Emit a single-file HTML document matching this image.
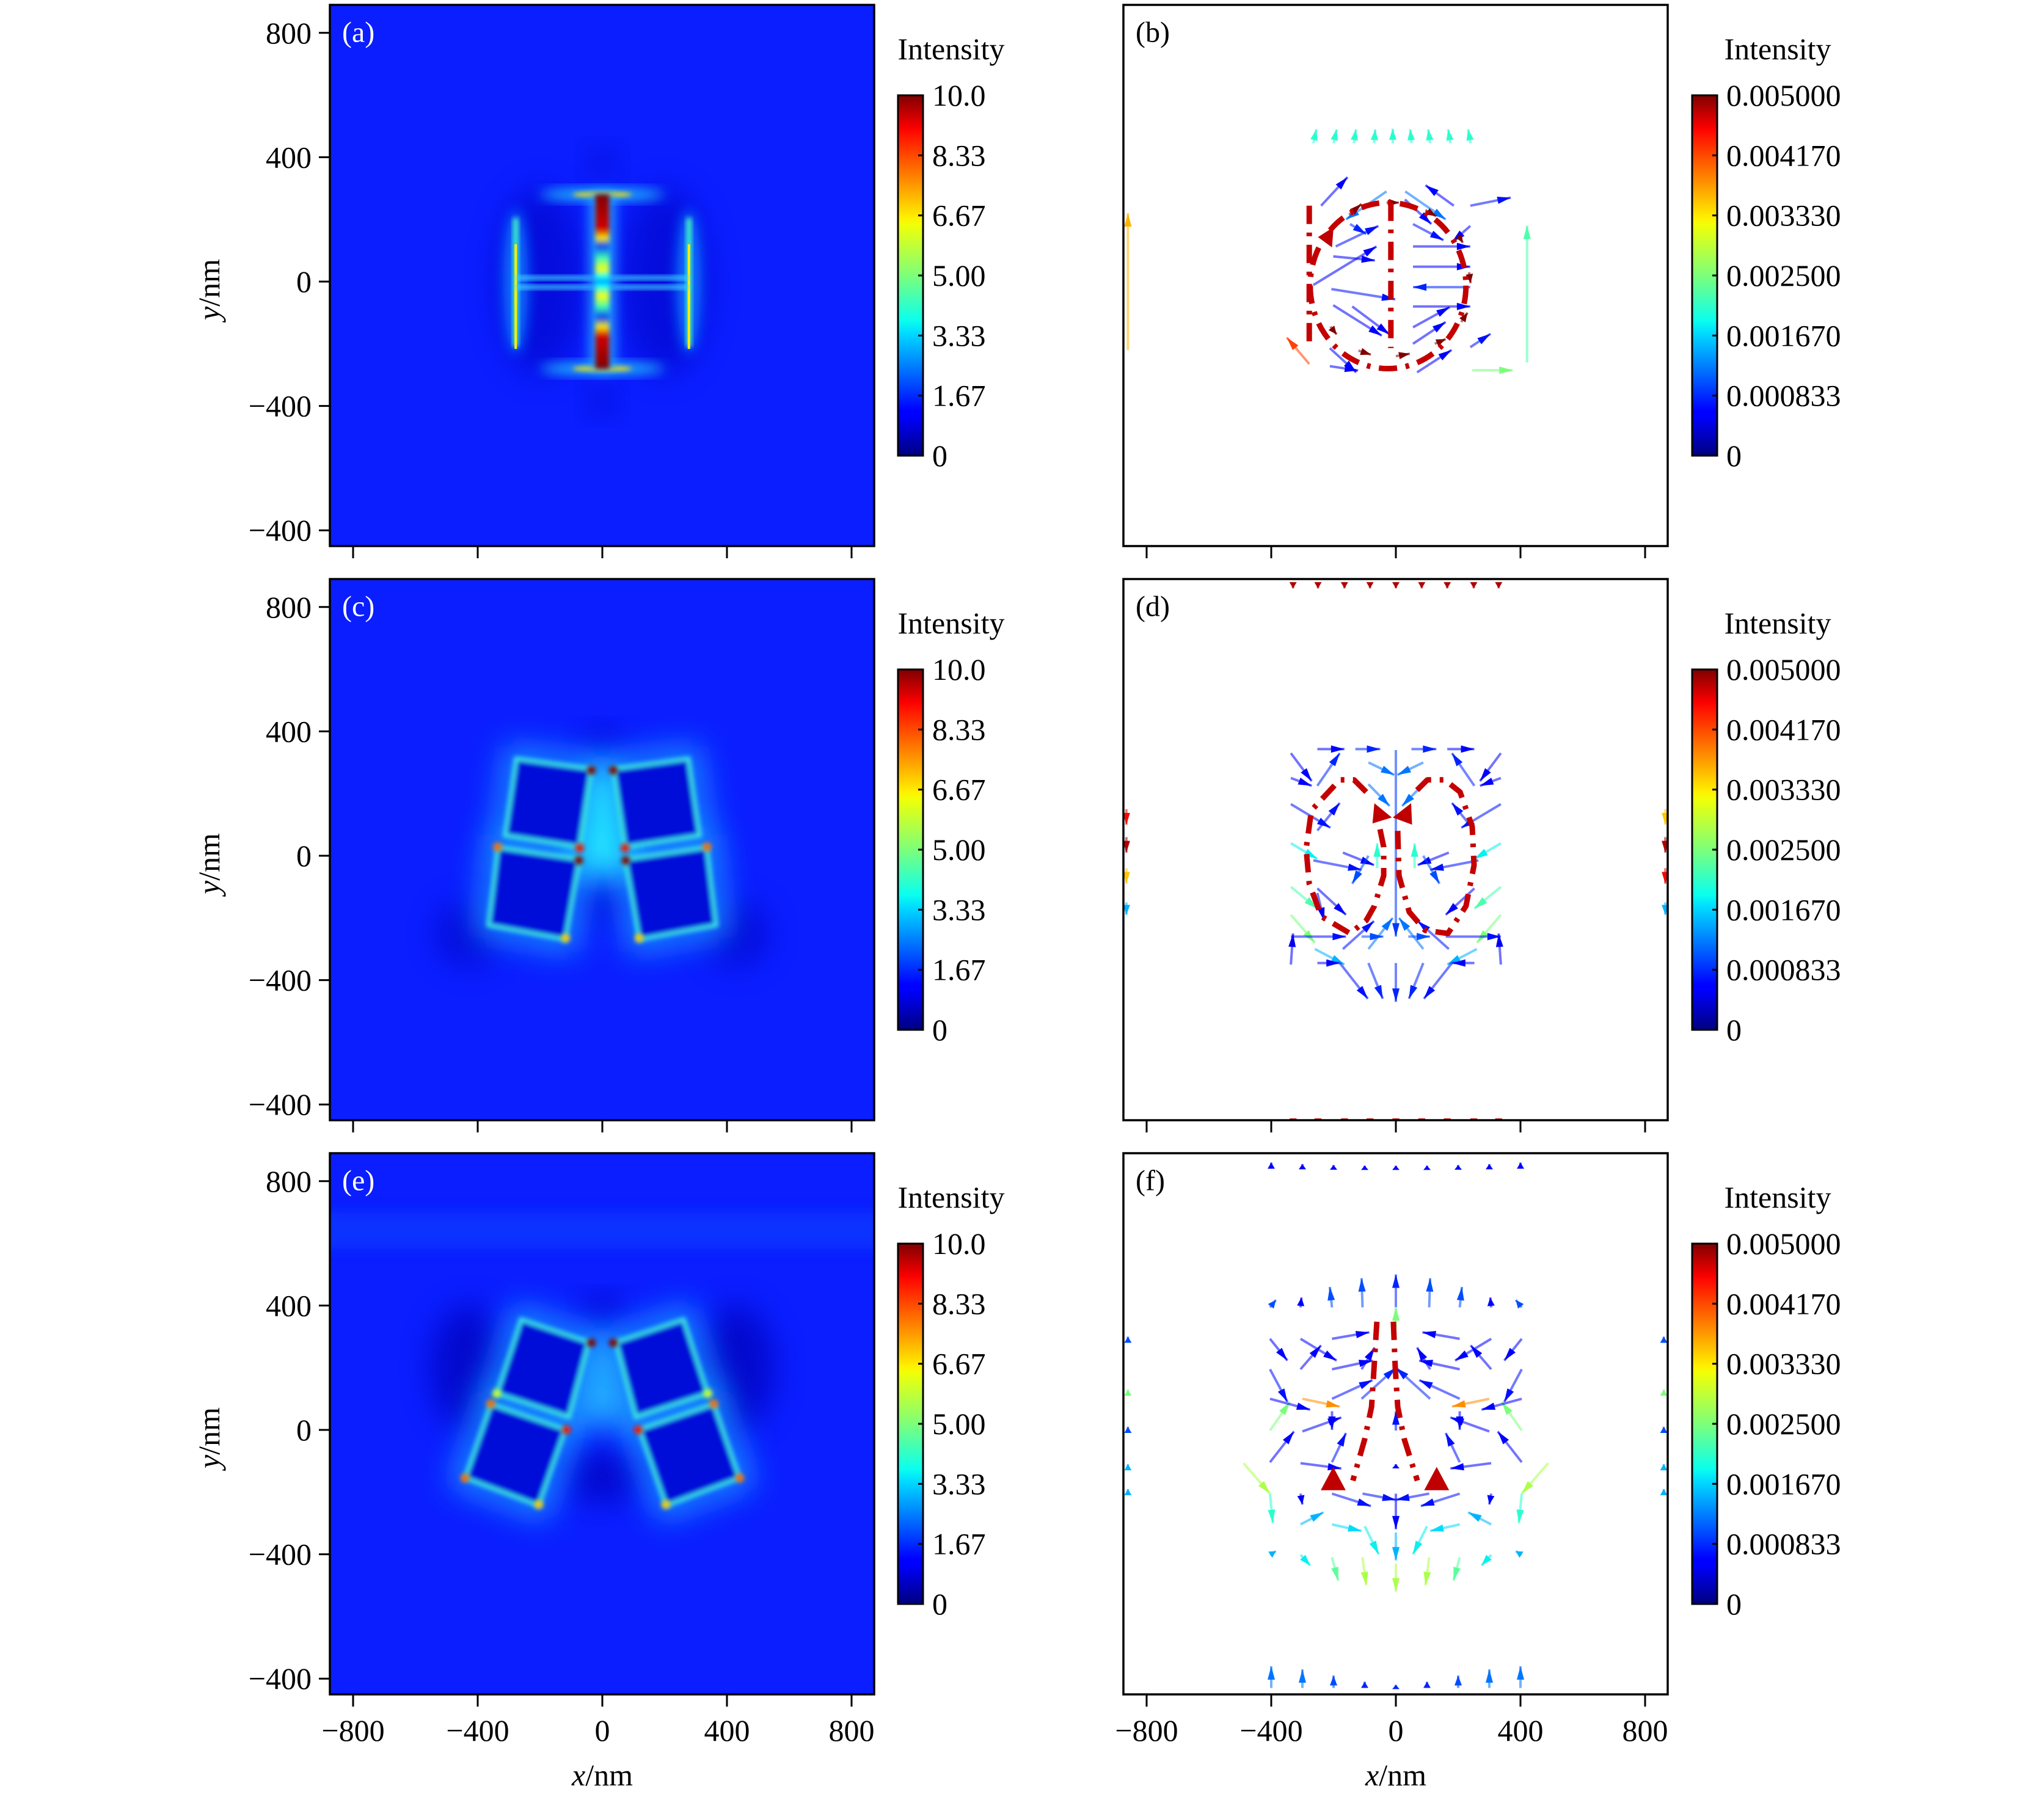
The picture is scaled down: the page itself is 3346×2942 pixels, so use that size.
<!DOCTYPE html>
<html><head><meta charset="utf-8">
<style>
html,body{margin:0;padding:0;background:#fff;}
svg{display:block;}
text{font-family:"Liberation Serif",serif;fill:#000;}
</style></head>
<body>
<svg id="fig" width="3346" height="2942" viewBox="0 0 3346 2942" xmlns="http://www.w3.org/2000/svg">
<defs>
<linearGradient id="jet" x1="0" y1="1" x2="0" y2="0">
<stop offset="0" stop-color="#000080"/><stop offset="0.11" stop-color="#0000ff"/><stop offset="0.125" stop-color="#0000ff"/>
<stop offset="0.34" stop-color="#00dbff"/><stop offset="0.375" stop-color="#0affee"/><stop offset="0.5" stop-color="#7dff7a"/>
<stop offset="0.64" stop-color="#f0ff08"/><stop offset="0.66" stop-color="#fff000"/><stop offset="0.89" stop-color="#ff1200"/>
<stop offset="0.91" stop-color="#fa0000"/><stop offset="1" stop-color="#800000"/>
</linearGradient>
<filter id="b4" x="-50%" y="-50%" width="200%" height="200%"><feGaussianBlur stdDeviation="4"/></filter>
<filter id="b10" x="-50%" y="-50%" width="200%" height="200%"><feGaussianBlur stdDeviation="10"/></filter>
<filter id="b25" x="-50%" y="-50%" width="200%" height="200%"><feGaussianBlur stdDeviation="25"/></filter>
<filter id="b50" x="-50%" y="-50%" width="200%" height="200%"><feGaussianBlur stdDeviation="50"/></filter>
</defs>
</svg>
<script>
// ---------- data ----------
const rowY0 = [461, 1401, 2341];
const leftX0 = 986, rightX0 = 2285;
const yTickVals = [800, 400, 0, -400, -800];
const yTickLabels = ["800", "400", "0", "\u2212400", "\u2212400"];
const xTickVals = [-800, -400, 0, 400, 800];
const xTickLabels = ["\u2212800", "\u2212400", "0", "400", "800"];
const cbLeftLabels = ["10.0", "8.33", "6.67", "5.00", "3.33", "1.67", "0"];
const cbRightLabels = ["0.005000", "0.004170", "0.003330", "0.002500", "0.001670", "0.000833", "0"];
const panelLetters = ["(a)", "(b)", "(c)", "(d)", "(e)", "(f)"];

// panel a (nm)
const aRodStops = [[280,'#800000'],[170,'#d00000'],[140,'#ffee00'],[115,'#0040ff'],[75,'#40ffb0'],[40,'#ffff00'],[15,'#00ffff'],[0,'#00a0ff'],[-15,'#00ffff'],[-45,'#ffff00'],[-80,'#40ffb0'],[-115,'#0040ff'],[-145,'#ffee00'],[-175,'#d00000'],[-280,'#800000']];
const aSideRodX = [-278, 278];
const aSideRodY = [204, -210];
const aBarY = [280, -280];
const aLineY = [12, -18];

// panel c squares (nm) left half; mirrored
const cSquares = [
  [[-277,313],[-35,280],[-73,28],[-313,65]],
  [[-336,28],[-73,-11],[-118,-270],[-366,-224]]
];
const cHot = [[-35,275,5],[-73,25,4.5],[-75,-15,5],[-336,28,4],[-118,-265,3.5]];
// panel e squares
const eSquares = [
  [[-261,356],[-43,283],[-107,41],[-339,117]],
  [[-358,84],[-118,2],[-204,-244],[-441,-155]]
];
const eHot = [[-35,280,5],[-115,0,4.5],[-358,84,4],[-441,-155,4],[-204,-240,3.5],[-339,117,3]];

// panel b arrows [x1,y1,x2,y2,value(×0.001)]
const bArrows = [
 [-240,244,-155,336,0.6],[186,244,95,310,0.6],[239,244,369,270,0.7],[239,179,180,127,0.6],[239,-211,304,-168,0.7],
 [-212,-214,-127,-292,0.6],[55,113,239,113,0.5],[55,48,239,48,0.6],[239,-18,55,-18,0.8],[55,-80,239,-80,0.6],
 [-207,-24,-2,-57,0.7],[-201,81,-67,68,0.6],[-265,-11,-62,113,0.6],[-193,113,-56,179,0.7],[-147,185,-95,153,0.8],
 [-30,290,-160,200,1.2],[30,290,160,200,1.2],[29,264,114,185,0.6],[55,185,153,133,0.7],[-201,-76,-45,-174,0.6],
 [-140,-80,-20,-170,0.6],[55,-147,173,-82,0.6],[55,-200,160,-130,0.6],[68,-292,179,-220,0.6],[-212,-272,-121,-286,0.6],
 [-150,215,-110,250,5],[-30,254,10,254,5],[95,230,130,210,5],[-210,-145,-190,-170,5],[-120,-222,-80,-235,5],
 [0,-240,45,-232,5],[125,-200,160,-185,5],[200,150,215,125,5],[235,30,240,-5,5],[210,-130,230,-100,5],
 [-278,-265,-350,-180,4.2],[421,-260,421,180,2.2],[245,-285,375,-285,2.5],[-860,-220,-860,220,3.6],
 [-265,445,-255,490,2.0],[-200,445,-190,490,2.0],[-135,445,-128,490,2.0],[-70,445,-66,490,2.0],[-10,445,-10,492,2.0],
 [50,445,46,490,2.0],[110,445,104,490,2.0],[175,445,168,490,2.0],[240,445,232,490,2.0],[421,470,421,470,2.6]
];
const bLoop = {cx:-25, cy:-13, rx:250, ry:267};
const bLines = [[-16,254,-16,-214],[-278,244,-278,-211]];
const bTri = [[-250,143],[-200,175],[-205,110]];

// panel d arrows
const dArrows = [
 [-337,330,-270,240,0.6],[-337,250,-270,225,0.6],[-252,343,-165,343,0.6],[-130,343,-50,343,0.8],[50,343,130,343,0.8],
 [165,343,252,343,0.6],[337,330,270,240,0.6],[337,250,270,225,0.6],[-88,300,-5,260,1.2],[88,300,5,260,1.2],
 [-252,225,-180,330,0.8],[252,225,180,330,0.8],[-337,166,-210,90,0.7],[-252,81,-180,170,0.7],[252,81,180,170,0.7],
 [337,166,210,90,0.7],[-88,230,-20,160,1.2],[88,230,20,160,1.2],[-337,40,-252,-10,1.8],[337,40,252,-10,1.8],
 [-265,-15,-110,-45,0.7],[265,-15,110,-45,0.7],[-170,10,-70,-30,0.6],[170,10,70,-30,0.6],[-88,0,-140,-90,1.0],
 [88,0,140,-90,1.0],[-337,-100,-252,-170,2.2],[337,-100,252,-170,2.2],[-252,-105,-160,-190,0.6],[252,-105,160,-190,0.6],
 [-252,-120,-230,-210,0.5],[-337,-190,-260,-280,2.5],[337,-190,260,-280,2.5],[-170,-300,-70,-210,0.7],[170,-300,70,-210,0.7],
 [-88,-300,-10,-200,1.2],[88,-300,10,-200,1.2],[0,340,0,-260,0.9],[-337,-260,-160,-260,0.7],[-110,-260,-40,-260,1.0],
 [40,-260,110,-260,1.0],[160,-260,337,-260,0.7],[-337,-350,-330,-250,0.5],[337,-350,330,-250,0.5],[-260,-300,-165,-350,1.5],
 [260,-300,165,-350,1.5],[-252,-345,-180,-345,0.6],[252,-345,180,-345,0.6],[-180,-345,-90,-460,0.7],[180,-345,90,-460,0.7],
 [-88,-345,-42,-460,0.8],[88,-345,42,-460,0.8],[0,-345,0,-470,0.8],[-60,-40,-60,40,2.0],[60,-40,60,40,2.0],
 [-865,150,-865,100,4.5],[-865,60,-865,10,4.8],[-865,-40,-865,-90,3.5],[-865,-150,-865,-190,1.5],
 [865,150,865,100,3.5],[865,60,865,10,4.8],[865,-40,865,-90,4.5],[865,-150,865,-190,1.5]
];
const dEdgeX = [-330,-250,-165,-83,0,83,165,250,330];
const dEdgeY = [870, -855];
const dLoopL = [[-95,205],[-134,244],[-180,244],[-271,146],[-288,22],[-278,-90],[-239,-195],[-147,-250],[-95,-208],[-69,-162],[-39,-64],[-39,28],[-56,110]];
const dLoopR = [[6,80],[10,-64],[43,-181],[94,-240],[167,-250],[225,-162],[251,-31],[245,94],[206,205],[157,244],[101,244],[55,198]];
const dTriL = [[-69,169],[-75,104],[-13,123]];
const dTriR = [[49,169],[52,100],[-10,123]];

// panel f arrows (left half, mirrored) + centre
const fArrowsHalf = [
 [-404,394,-385,418,1.0],[-306,394,-303,426,0.6],[-205,394,-212,460,1.0],[-107,394,-110,488,1.0],
 [-205,293,-85,314,0.6],[-404,293,-348,223,0.6],[-306,293,-190,223,0.6],[-306,195,-240,272,0.6],[-205,195,-75,223,0.6],
 [-110,195,-68,265,0.6],[-110,100,0,200,0.8],[-205,100,-75,160,0.7],[-404,195,-348,90,0.7],[-404,-2,-340,90,2.5],
 [-300,100,-180,75,3.8],[-404,100,-275,65,0.6],[-300,-5,-175,40,0.6],[-205,60,-205,0,0.6],[-404,-104,-327,-5,0.6],
 [-205,-104,-160,-10,0.7],[-306,-107,-175,-124,0.6],[-107,-205,0,-225,0.7],[-306,-205,-300,-240,0.6],
 [-205,-205,-80,-245,0.7],[-404,-205,-395,-300,2.0],[-489,-107,-404,-205,2.8],[-306,-304,-232,-265,1.5],
 [-205,-304,-110,-325,1.7],[-100,-310,-55,-400,1.8],[-404,-402,-385,-390,1.5],[-306,-402,-275,-436,1.8],
 [-205,-410,-185,-485,2.3],[-107,-410,-95,-500,2.8],
 [-400,840,-400,860,0.6],[-300,840,-300,855,0.6],[-200,840,-200,852,0.6],[-100,840,-100,850,0.6],
 [-400,-830,-400,-760,1.2],[-300,-830,-300,-770,1.2],[-200,-830,-200,-790,1.0],[-100,-830,-100,-810,0.8],
 [-860,280,-860,300,1.0],[-860,110,-860,130,2.5],[-860,-10,-860,10,1.0],[-860,-130,-860,-110,1.5],[-860,-210,-860,-190,1.5]
];
const fArrowsCenter = [[0,395,0,500,0.8],[0,-2,0,60,0.7],[0,-120,0,-110,0.6],[0,-205,0,-320,0.6],[0,-330,0,-420,1.5],[0,-430,0,-520,2.8],[0,330,0,395,2.5],[0,840,0,850,0.6],[0,-830,0,-820,0.8]];
const fCurveL = [[-61,348],[-70,200],[-78,74],[-100,-30],[-138,-163]];
const fCurveR = [[-8,348],[-2,200],[6,74],[27,-30],[69,-163]];
const fTri = [[-201,-174],[131,-174]];

// ---------- helpers ----------
const NS = "http://www.w3.org/2000/svg";
const svg = document.getElementById("fig");
const KX = 0.51, KY = 0.509;
const FS = 50;
function el(tag, attrs, parent){ const e=document.createElementNS(NS,tag); for(const k in attrs) e.setAttribute(k,attrs[k]); (parent||svg).appendChild(e); return e; }
function sx(x0,v){ return x0 + v*KX; }
function sy(y0,v){ return y0 - v*KY; }
function jet(t){
  t=Math.max(0,Math.min(1,t));
  const r = t<0.35?0:t<0.66?(t-0.35)/0.31:t<0.89?1:1-(t-0.89)/0.11*0.5;
  const g = t<0.125?0:t<0.375?(t-0.125)/0.25:t<0.64?1:t<0.91?1-(t-0.64)/0.27:0;
  const b = t<0.11?0.5+t/0.11*0.5:t<0.34?1:t<0.65?1-(t-0.34)/0.31:0;
  return "rgb("+Math.round(r*255)+","+Math.round(g*255)+","+Math.round(b*255)+")";
}
function txt(x,y,s,size,anchor,parent,extra){ const t=el("text",Object.assign({x:x,y:y,"font-size":size,"text-anchor":anchor||"start","dominant-baseline":"central"},extra||{}),parent); t.textContent=s; return t; }

// ---------- build panels ----------
rowY0.forEach(function(y0,ri){
  [leftX0,rightX0].forEach(function(x0,ci){
    const idx = ri*2+ci;
    const L=x0-446, R=x0+445, T=y0-453, B=y0+433;
    const g = el("g",{});
    
    
    const cid="clip"+idx;
    const cp=el("clipPath",{id:cid},g); el("rect",{x:L,y:T,width:R-L,height:B-T},cp);
    const plot = el("g",{"clip-path":"url(#"+cid+")"},g);
    
    
    if(ci===0){
      el("rect",{x:L,y:T,width:R-L,height:B-T,fill:"#0a1eff"},plot);
      if(ri===0) drawA(plot,x0,y0); else drawSquares(plot,x0,y0,ri===1?cSquares:eSquares,ri===1?cHot:eHot,ri);
    } else {
      el("rect",{x:L,y:T,width:R-L,height:B-T,fill:"#fff"},plot);
      if(ri===0) drawB(plot,x0,y0); else if(ri===1) drawD(plot,x0,y0); else drawF(plot,x0,y0);
    }
    const frame = el("rect",{x:L,y:T,width:R-L,height:B-T,fill:"none",stroke:"#000","stroke-width":3.5},g);
    
    
    const pl = txt(L+20,T+45,panelLetters[idx],FS-2,"start",g,{fill:ci===0?"#fff":"#000"});
    
    
    if(ci===0) pl.style.fill="#fff";
    xTickVals.forEach(function(v,k){
      const X=sx(x0,v);
      const tk = el("line",{x1:X,y1:B,x2:X,y2:B+20,stroke:"#000","stroke-width":3},g);
      
      
      if(ri===2){
        const tl = txt(X,2833,xTickLabels[k],FS,"middle",g);
        
        
      }
    });
    if(ci===0){
      yTickVals.forEach(function(v,k){
        const Y=sy(y0,v);
        const tk=el("line",{x1:L-18,y1:Y,x2:L,y2:Y,stroke:"#000","stroke-width":3},g);
        
        
        const tl=txt(L-30,Y,yTickLabels[k],FS,"end",g);
        
        
      });
      const yl = el("text",{x:0,y:0,"font-size":FS,"text-anchor":"middle","dominant-baseline":"central",transform:"translate(342,"+(y0+13)+") rotate(-90)"},g);
      yl.innerHTML='<tspan font-style="italic">y</tspan>/nm';
      
      
    }
    if(ri===2){
      const xl = el("text",{x:x0,y:2906,"font-size":FS,"text-anchor":"middle","dominant-baseline":"central"},g);
      xl.innerHTML='<tspan font-style="italic">x</tspan>/nm';
      
      
    }
    const cbx = ci===0?1470:2770, cbT=156+ri*940, cbB=746+ri*940;
    const cb = el("rect",{x:cbx,y:cbT,width:41,height:cbB-cbT,fill:"url(#jet)",stroke:"#000","stroke-width":3},g);
    
    
    const labs = ci===0?cbLeftLabels:cbRightLabels;
    labs.forEach(function(s,k){
      const Y=cbT+k*(cbB-cbT)/(labs.length-1);
      el("line",{x1:cbx+33,y1:Y,x2:cbx+41,y2:Y,stroke:"#000","stroke-width":3},g);
      const t=txt(cbx+56,Y,s,FS,"start",g);
      
      
    });
    const ct = txt(ci===0?1557:2910,80+ri*940,"Intensity",FS,"middle",g);
    
    
  });
});

function drawA(p,x0,y0){
  [[0,380,45,45],[0,-380,45,45],[-200,0,140,300],[200,0,140,300]].forEach(function(h){
    el("ellipse",{cx:sx(x0,h[0]),cy:sy(y0,h[1]),rx:h[2]*KX,ry:h[3]*KY,fill:"#0000c0",opacity:0.55,filter:"url(#b25)"},p);
  });
  aSideRodX.forEach(function(x){
    el("ellipse",{cx:sx(x0,x),cy:sy(y0,0),rx:40*KX,ry:230*KY,fill:"#1070ff",filter:"url(#b10)"},p);
    el("rect",{x:sx(x0,x)-4,y:sy(y0,aSideRodY[0]),width:8,height:(aSideRodY[0]-aSideRodY[1])*KY,fill:"#40ffc0",filter:"url(#b4)"},p);
    el("rect",{x:sx(x0,x)-2,y:sy(y0,120),width:4,height:100,fill:"#ffee00"},p);
    el("rect",{x:sx(x0,x)-2,y:sy(y0,-20),width:4,height:100,fill:"#ffee00"},p);
  });
  aLineY.forEach(function(y){
    el("rect",{x:sx(x0,aSideRodX[0]),y:sy(y0,y)-3,width:(aSideRodX[1]-aSideRodX[0])*KX,height:6,fill:"#40d8ff",filter:"url(#b4)"},p);
  });
  aBarY.forEach(function(y){
    el("ellipse",{cx:sx(x0,0),cy:sy(y0,y),rx:200*KX,ry:18*KY,fill:"#20d0ff",filter:"url(#b10)"},p);
    el("ellipse",{cx:sx(x0,0),cy:sy(y0,y),rx:95*KX,ry:9*KY,fill:"#ffe000",filter:"url(#b4)"},p);
  });
  const gid="rodg"; const lg=el("linearGradient",{id:gid,x1:0,y1:sy(y0,280),x2:0,y2:sy(y0,-280),gradientUnits:"userSpaceOnUse"},svg.querySelector("defs"));
  aRodStops.forEach(function(s){ el("stop",{offset:((280-s[0])/560).toFixed(3),"stop-color":s[1]},lg); });
  el("rect",{x:sx(x0,-40),y:sy(y0,285),width:80*KX,height:570*KY,fill:"#20a0ff",filter:"url(#b10)"},p);
  el("rect",{x:sx(x0,-22),y:sy(y0,280),width:44*KX,height:560*KY,fill:"url(#"+gid+")",filter:"url(#b4)"},p);
}

function drawSquares(p,x0,y0,sq,hot,ri){
  if(ri===2){
    [[0,-150,120,80],[0,390,60,40],[-430,200,120,200],[430,200,120,200]].forEach(function(h){
      el("ellipse",{cx:sx(x0,h[0]),cy:sy(y0,h[1]),rx:h[2]*KX,ry:h[3]*KY,fill:"#0000b8",opacity:0.7,filter:"url(#b25)"},p);
    });
    el("rect",{x:sx(x0,-900),y:sy(y0,700),width:1000,height:60,fill:"#1040ff",opacity:0.6,filter:"url(#b10)"},p);
  } else {
    [[0,-150,60,60],[0,370,60,40],[-430,-250,100,100],[430,-250,100,100]].forEach(function(h){
      el("ellipse",{cx:sx(x0,h[0]),cy:sy(y0,h[1]),rx:h[2]*KX,ry:h[3]*KY,fill:"#0000c0",opacity:0.6,filter:"url(#b25)"},p);
    });
  }
  const all=[];
  sq.forEach(function(q){ all.push(q); all.push(q.map(function(c){return [-c[0],c[1]];})); });
  const pts=function(q){ return q.map(function(c){return sx(x0,c[0])+","+sy(y0,c[1]);}).join(" "); };
  all.forEach(function(q){ el("polygon",{points:pts(q),fill:"none",stroke:"#1890ff","stroke-width":40,filter:"url(#b25)"},p); });
  const tri = ri===1?[[-40,280],[40,280],[95,-60],[-95,-60]]:[[-40,285],[40,285],[100,20],[-100,20]];
  el("polygon",{points:pts(tri),fill:ri===1?"#20e8ff":"#20b0ff",filter:"url(#b25)"},p);
  all.forEach(function(q){
    el("polygon",{points:pts(q),fill:"#0008d8",stroke:"#40f0e0","stroke-width":6,filter:"url(#b4)"},p);
  });
  hot.forEach(function(h){
    [1,-1].forEach(function(m){
      el("circle",{cx:sx(x0,m*h[0]),cy:sy(y0,h[1]),r:7,fill:jet(h[2]/5),filter:"url(#b4)"},p);
    });
  });
}

function arrow(p,x0,y0,a){
  const X1=sx(x0,a[0]),Y1=sy(y0,a[1]),X2=sx(x0,a[2]),Y2=sy(y0,a[3]);
  const c=jet(a[4]/5);
  const g=el("g",{},p);
  
  
  el("line",{x1:X1,y1:Y1,x2:X2,y2:Y2,stroke:c,"stroke-width":4,opacity:0.55},g);
  const dx=X2-X1,dy=Y2-Y1,l=Math.hypot(dx,dy)||1,ux=dx/l,uy=dy/l;
  const hl=Math.min(18,l*0.6)+4;
  el("polygon",{points:[X2,Y2,X2-ux*hl-uy*6,Y2-uy*hl+ux*6,X2-ux*hl+uy*6,Y2-uy*hl-ux*6].join(","),fill:c},g);
}
function redPath(p,x0,y0,pts,closed){
  const d="M"+pts.map(function(c){return sx(x0,c[0])+" "+sy(y0,c[1]);}).join(" L")+(closed?" Z":"");
  const e=el("path",{d:d,fill:"none",stroke:"#c40000","stroke-width":9,"stroke-dasharray":"30 14 6 14","stroke-linejoin":"round"},p);
  
  
}
function redTri(p,x0,y0,t){
  const e=el("polygon",{points:t.map(function(c){return sx(x0,c[0])+","+sy(y0,c[1]);}).join(" "),fill:"#c00000"},p);
  
  
}

function drawB(p,x0,y0){
  bArrows.forEach(function(a){ arrow(p,x0,y0,a); });
  const e=el("ellipse",{cx:sx(x0,bLoop.cx),cy:sy(y0,bLoop.cy),rx:bLoop.rx*KX,ry:bLoop.ry*KY,fill:"none",stroke:"#c40000","stroke-width":9,"stroke-dasharray":"30 14 6 14"},p);
  
  
  bLines.forEach(function(l){ redPath(p,x0,y0,[[l[0],l[1]],[l[2],l[3]]],false); });
  redTri(p,x0,y0,bTri);
}
function drawD(p,x0,y0){
  dArrows.forEach(function(a){ arrow(p,x0,y0,a); });
  dEdgeY.forEach(function(y){ dEdgeX.forEach(function(x){ arrow(p,x0,y0,[x,y+10,x,y-10,4.8]); }); });
  redPath(p,x0,y0,dLoopL,false); redPath(p,x0,y0,dLoopR,false);
  redTri(p,x0,y0,dTriL); redTri(p,x0,y0,dTriR);
}
function drawF(p,x0,y0){
  fArrowsHalf.forEach(function(a){ arrow(p,x0,y0,a); arrow(p,x0,y0,[-a[0],a[1],-a[2],a[3],a[4]]); });
  fArrowsCenter.forEach(function(a){ arrow(p,x0,y0,a); });
  redPath(p,x0,y0,fCurveL,false); redPath(p,x0,y0,fCurveR,false);
  fTri.forEach(function(t){ redTri(p,x0,y0,[[t[0]-40,t[1]-20],[t[0]+40,t[1]-20],[t[0],t[1]+55]]); });
}
</script>
</body></html>
